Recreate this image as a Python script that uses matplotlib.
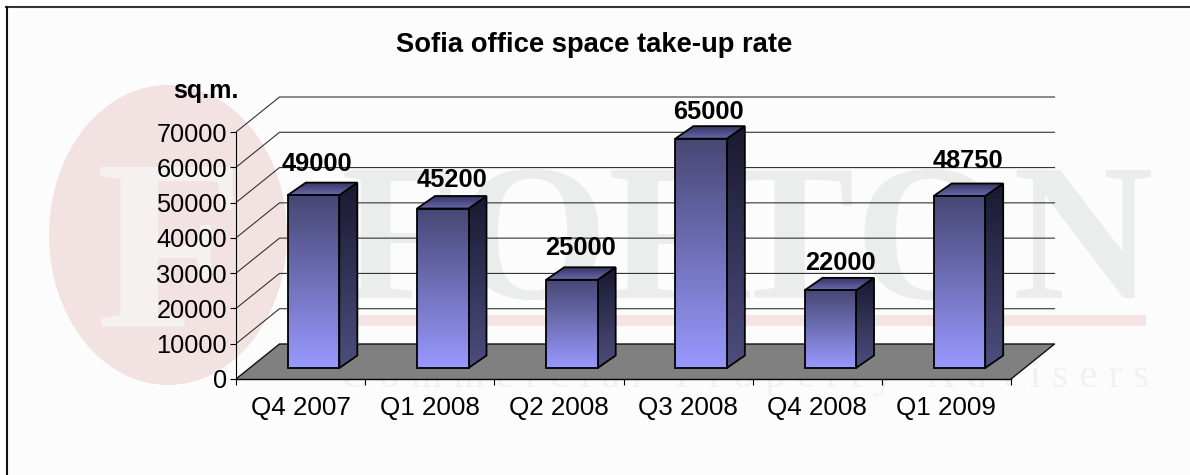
import numpy as np
import matplotlib
matplotlib.use("Agg")
import matplotlib.pyplot as plt
from matplotlib.colors import LinearSegmentedColormap
from matplotlib.patches import Ellipse, Polygon, Rectangle

# data
quarters = ["Q4 2007", "Q1 2008", "Q2 2008", "Q3 2008", "Q4 2008", "Q1 2009"]
take_up = [49000, 45200, 25000, 65000, 22000, 48750]
y_ticks = [0, 10000, 20000, 30000, 40000, 50000, 60000, 70000]

# nudges for the value labels, in pixels
label_dx = [3.5, 9.5, 8.5, 7, 10, 9]
label_dy = [19, 16, 19, 14, 15, 22]

plt.rcParams["font.family"] = ["Liberation Sans", "DejaVu Sans"]

W, H = 1190, 475
fig = plt.figure(figsize=(W / 100, H / 100), dpi=100, facecolor="white")

# background + watermark, in pixel coordinates
bg = fig.add_axes([0, 0, 1, 1], zorder=0)
bg.set_xlim(0, W)
bg.set_ylim(H, 0)
bg.axis("off")
bg.add_patch(Rectangle((6, 7), W, H, fc="#fcfcfc", ec="none"))
bg.add_patch(Ellipse((168, 235), 238, 300, fc="#f3e2e2", ec="none"))
bg.add_patch(Rectangle((300, 315), 846, 11, fc="#f4e4e4", ec="none"))
bg.text(170, 326, "F", family="Liberation Serif", fontweight="bold", fontsize=175, color="#f5f1f1",
        ha="center", va="baseline")
for ch, cx in zip("FORTON", [400, 532, 678, 790, 930, 1082]):
    bg.text(cx, 298, ch, family="Liberation Serif", fontweight="bold", fontsize=140, color="#ebecec",
            ha="center", va="baseline")
spaced = "\u2009\u200a".join("Commercial Property Advisers")
bg.text(745, 387, spaced, family="Liberation Serif", fontsize=29,
        color="#f1f1f1", ha="center", va="baseline")
bg.plot([6, W], [7, 7], color="#333333", lw=1.5)
bg.plot([6.5, 6.5], [7, H], color="#111111", lw=1.5)

# chart axes: x is the category number, y the value
PX_X = 129.17
PX_Y = 247 / 70000
x_max = 6.5
y_max = 90000
ax = fig.add_axes([236 / W, (H - 379) / H, x_max * PX_X / W, y_max * PX_Y / H], zorder=1)
ax.patch.set_visible(False)
ax.set_xlim(0, x_max)
ax.set_ylim(0, y_max)


def dx(px):
    return px / PX_X


def dy(px):
    return px / PX_Y


WALL_X = dx(43.5)
WALL_Y = dy(35)

# floor and grid
ax.add_patch(Polygon([(0, 0), (WALL_X, WALL_Y), (6 + WALL_X, WALL_Y), (6, 0)],
                     fc="#808080", ec="none", zorder=1))
for t in y_ticks[1:]:
    ax.plot([0, WALL_X, 6 + WALL_X], [t, t + WALL_Y, t + WALL_Y], color="#333333", lw=0.8, zorder=0.5)
ax.plot([0, WALL_X, 6 + WALL_X, 6], [0, WALL_Y, WALL_Y, 0], color="#111111", lw=1.0, zorder=1.5)

front_cmap = LinearSegmentedColormap.from_list("front", ["#474774", "#9999ff"])
side_cmap = LinearSegmentedColormap.from_list("side", ["#191930", "#4e4e80"])
top_cmap = LinearSegmentedColormap.from_list("top", ["#343460", "#6a6ab0"])
grad = np.linspace(0, 1, 128).reshape(-1, 1)


def shaded(points, cmap, z):
    xs = [p[0] for p in points]
    ys = [p[1] for p in points]
    im = ax.imshow(grad, cmap=cmap, aspect="auto", origin="upper", interpolation="bilinear",
                   extent=(min(xs), max(xs), min(ys), max(ys)), zorder=z)
    outline = Polygon(points, fc="none", ec="black", lw=1.3, joinstyle="miter", zorder=z + 0.1)
    ax.add_patch(outline)
    im.set_clip_path(outline)


BAR_W = dx(51.5)
OFF_X = dx(13)
OFF_Y = dy(11)
SIDE_X = dx(18)
SIDE_Y = dy(12.5)

for i, v in enumerate(take_up):
    x0 = i + 0.5 + OFF_X - BAR_W / 2
    x1 = x0 + BAR_W
    y0 = OFF_Y
    y1 = OFF_Y + v
    z = 2 + i
    shaded([(x1, y0), (x1 + SIDE_X, y0 + SIDE_Y), (x1 + SIDE_X, y1 + SIDE_Y), (x1, y1)], side_cmap, z)
    shaded([(x0, y1), (x1, y1), (x1 + SIDE_X, y1 + SIDE_Y), (x0 + SIDE_X, y1 + SIDE_Y)], top_cmap, z + 0.2)
    shaded([(x0, y0), (x1, y0), (x1, y1), (x0, y1)], front_cmap, z + 0.4)
    ax.text(i + 0.5 + OFF_X + dx(label_dx[i]), y1 + SIDE_Y + dy(label_dy[i]), str(v),
            fontsize=18.3, fontweight="bold", color="black", ha="center", va="center", zorder=20)

# axes
for s in ["top", "right"]:
    ax.spines[s].set_visible(False)
ax.spines["left"].set_bounds(0, 70000)
ax.spines["bottom"].set_bounds(0, 6)
ax.spines["left"].set_linewidth(0.8)
ax.spines["bottom"].set_linewidth(1.0)
ax.spines["left"].set_zorder(1.6)
ax.spines["bottom"].set_zorder(1.6)
ax.set_yticks(y_ticks)
ax.set_yticklabels([str(t) for t in y_ticks])
ax.set_xticks(range(7))
ax.set_xticklabels([])
ax.set_xticks(np.arange(6) + 0.5, minor=True)
ax.set_xticklabels(quarters, minor=True)
ax.tick_params(axis="y", labelsize=18.3, length=4.5, width=0.8, pad=2)
ax.tick_params(axis="x", which="major", length=4.5, width=0.8)
ax.tick_params(axis="x", which="minor", labelsize=18.7, length=0, pad=12.5)

fig.text(594.5 / W, 1 - 45 / H, "Sofia office space take-up rate", fontsize=19.7, fontweight="bold",
         ha="center", va="center", zorder=5)
fig.text(205.5 / W, 1 - 91 / H, "sq.m.", fontsize=18, fontweight="bold", ha="center", va="center", zorder=5)

fig.savefig("out.png", dpi=100)
